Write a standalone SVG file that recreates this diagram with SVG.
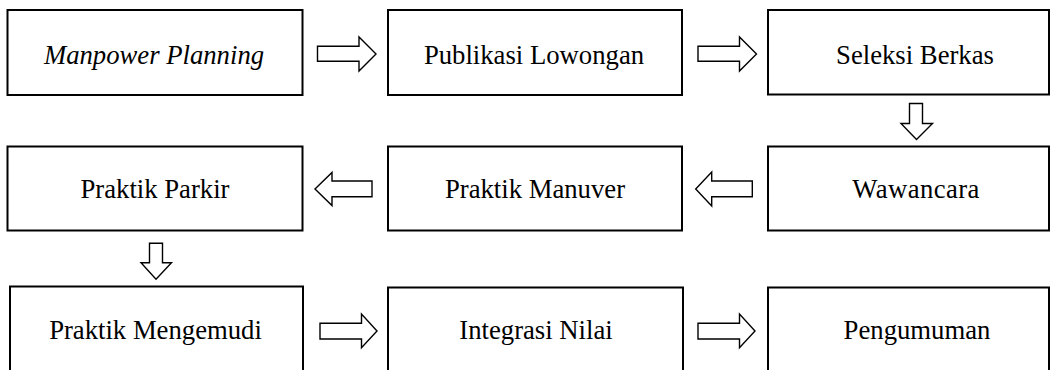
<svg xmlns="http://www.w3.org/2000/svg" width="1051" height="370" viewBox="0 0 1051 370">
<style>
.box{fill:#fff;stroke:#000;stroke-width:2}
.lbl{font-family:'Liberation Serif','Times New Roman',serif;font-size:26.7px;fill:#000;text-anchor:middle}
.it{font-style:italic}
.arr{fill:#fff;stroke:#000;stroke-width:1.4;stroke-linejoin:miter}
</style>
<rect width="1051" height="370" fill="#fff"/>
<g id="n1"><rect class="box" x="7.5" y="10" width="295" height="85"/><text class="lbl it" x="154" y="64">Manpower Planning</text></g>
<g id="n2"><rect class="box" x="388" y="10" width="294" height="85"/><text class="lbl" x="534" y="64">Publikasi Lowongan</text></g>
<g id="n3"><rect class="box" x="768" y="10" width="281" height="84.5"/><text class="lbl" x="915" y="64">Seleksi Berkas</text></g>
<g id="n4"><rect class="box" x="7.5" y="146.5" width="295" height="84"/><text class="lbl" x="155" y="198">Praktik Parkir</text></g>
<g id="n5"><rect class="box" x="388" y="146.5" width="294" height="84"/><text class="lbl" x="535" y="198">Praktik Manuver</text></g>
<g id="n6"><rect class="box" x="768" y="146.5" width="281" height="84"/><text class="lbl" x="916" y="198" letter-spacing="0.4">Wawancara</text></g>
<g id="n7"><rect class="box" x="10" y="286.5" width="293" height="100"/><text class="lbl" x="155.5" y="339">Praktik Mengemudi</text></g>
<g id="n8"><rect class="box" x="388" y="287.5" width="295" height="100"/><text class="lbl" x="536" y="339">Integrasi Nilai</text></g>
<g id="n9"><rect class="box" x="768" y="287.5" width="281" height="100"/><text class="lbl" x="917" y="339">Pengumuman</text></g>
<g id="connectors">
<polygon class="arr" points="317.5,46.3 359,46.3 359,37 376,54 359,71 359,61.3 317.5,61.3"/>
<polygon class="arr" points="698,46.3 739.5,46.3 739.5,37 756.5,54 739.5,71 739.5,61.3 698,61.3"/>
<polygon class="arr" points="909.5,103.5 922.5,103.5 922.5,123.5 932.5,123.5 916.5,139.5 901,123.5 909.5,123.5"/>
<polygon class="arr" points="372,181 332,181 332,172.5 315,189 332,205.5 332,196.7 372,196.7"/>
<polygon class="arr" points="752.3,181 711.7,181 711.7,172 695.7,189 711.7,206 711.7,196.7 752.3,196.7"/>
<polygon class="arr" points="149.5,243.3 162.5,243.3 162.5,262.7 171.5,262.7 156,279.3 141,262.7 149.5,262.7"/>
<polygon class="arr" points="320,323.3 361.5,323.3 361.5,314 377,331 361.5,347.7 361.5,339 320,339"/>
<polygon class="arr" points="698,323.3 739.5,323.3 739.5,314 755,331 739.5,347.7 739.5,339 698,339"/>
</g>
</svg>
